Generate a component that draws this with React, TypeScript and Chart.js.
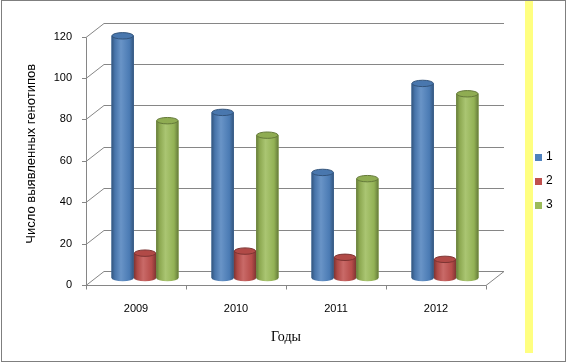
import React, { useEffect, useRef } from 'react';
import { Chart, registerables } from 'chart.js';

Chart.register(...registerables);

const categories = ['2009', '2010', '2011', '2012'];
const seriesLabels = ['1', '2', '3'];
const series1 = [117, 80, 51, 94];
const series2 = [12, 13, 10, 9];
const series3 = [76, 69, 48, 89];
const yTicks = [0, 20, 40, 60, 80, 100, 120];
const colors = ['#4F81BD', '#C0504D', '#9BBB59'];
const yTitle = 'Число выявленных генотипов';
const xTitle = 'Годы';

function shade(hex: string, amt: number): string {
  const n = parseInt(hex.slice(1), 16);
  let r = (n >> 16) & 255, g = (n >> 8) & 255, b = n & 255;
  const t = amt < 0 ? 0 : 255;
  const p = Math.abs(amt);
  r = Math.round((t - r) * p + r);
  g = Math.round((t - g) * p + g);
  b = Math.round((t - b) * p + b);
  return `rgb(${r},${g},${b})`;
}

const DX = 9;
const DY = 7;

const decorPlugin = {
  id: 'decor3d',
  beforeDraw(chart: any) {
    const { ctx, width, height, chartArea: ca } = chart;
    const ys = chart.scales.y;
    const xs = chart.scales.x;
    ctx.save();
    ctx.fillStyle = '#ffffff';
    ctx.fillRect(0, 0, width, height);
    // yellow strip
    ctx.fillStyle = '#ffff80';
    ctx.fillRect(width - 41, 0, 8, height - 9);

    const line = (x1: number, y1: number, x2: number, y2: number) => {
      ctx.beginPath();
      ctx.moveTo(x1, y1);
      ctx.lineTo(x2, y2);
      ctx.stroke();
    };
    ctx.strokeStyle = '#868686';
    ctx.lineWidth = 1;
    yTicks.forEach((v) => {
      const p = Math.round(ys.getPixelForValue(v)) + 0.5;
      line(ca.left + DX, p - DY, ca.right + DX, p - DY);
      line(ca.left - DX, p + DY, ca.left + DX, p - DY);
      line(ca.left - DX - 4, p + DY, ca.left - DX, p + DY);
    });
    const fx = Math.round(ca.left - DX) + 0.5;
    const top = Math.round(ys.getPixelForValue(yTicks[yTicks.length - 1])) + 0.5;
    const bot = Math.round(ys.getPixelForValue(0)) + 0.5;
    line(fx, top + DY, fx, bot + DY);
    line(ca.left - DX, bot + DY, ca.right - DX, bot + DY);
    line(ca.right - DX, bot + DY, ca.right + DX, bot - DY);
    for (let i = 0; i <= categories.length; i++) {
      const x = Math.round(xs.getPixelForValue(i - 0.5) - DX) + 0.5;
      line(x, bot + DY, x, bot + DY + 4);
    }
    ctx.restore();
  },
  afterDatasetsDraw(chart: any) {
    const { ctx } = chart;
    ctx.save();
    chart.data.datasets.forEach((ds: any, di: number) => {
      const meta = chart.getDatasetMeta(di);
      const c = colors[di];
      meta.data.forEach((el: any) => {
        const { x, y, base, width: w } = el.getProps(['x', 'y', 'base', 'width'], true);
        const l = x - w / 2;
        const r = x + w / 2;
        const ry = 3.2;
        const g = ctx.createLinearGradient(l, 0, r, 0);
        g.addColorStop(0, shade(c, -0.35));
        g.addColorStop(0.15, shade(c, -0.1));
        g.addColorStop(0.42, shade(c, 0.15));
        g.addColorStop(0.8, shade(c, -0.05));
        g.addColorStop(1, shade(c, -0.35));
        ctx.fillStyle = g;
        ctx.beginPath();
        ctx.moveTo(l, y);
        ctx.lineTo(l, base);
        ctx.ellipse(x, base, w / 2, ry, 0, Math.PI, 0, true);
        ctx.lineTo(r, y);
        ctx.closePath();
        ctx.fill();
        ctx.beginPath();
        ctx.ellipse(x, y, w / 2 - 0.5, ry, 0, 0, Math.PI * 2);
        ctx.fillStyle = shade(c, -0.08);
        ctx.fill();
        ctx.strokeStyle = shade(c, -0.35);
        ctx.lineWidth = 1;
        ctx.stroke();
      });
    });
    ctx.restore();
  },
  afterDraw(chart: any) {
    const { ctx, width, height, chartArea: ca } = chart;
    ctx.save();
    // x axis title
    ctx.fillStyle = '#000';
    ctx.font = '14px "Liberation Serif"';
    ctx.textAlign = 'center';
    ctx.textBaseline = 'middle';
    ctx.fillText(xTitle, (ca.left + ca.right) / 2 - DX, 337);
    // legend
    ctx.font = '12px "Liberation Sans"';
    ctx.textAlign = 'left';
    const cy = height / 2;
    chart.data.datasets.forEach((ds: any, i: number) => {
      const yy = cy + (i - 1) * 24;
      ctx.fillStyle = colors[i];
      ctx.fillRect(width - 31, Math.round(yy - 3.5), 7, 7);
      ctx.fillStyle = '#000';
      ctx.fillText(ds.label, width - 20, yy);
    });
    // frame
    ctx.strokeStyle = '#7f7f7f';
    ctx.lineWidth = 1;
    ctx.strokeRect(1.5, 0.5, width - 2, height - 1);
    ctx.restore();
  },
};

export default function App() {
  const ref = useRef<HTMLCanvasElement>(null);
  useEffect(() => {
    const chart = new Chart(ref.current as HTMLCanvasElement, {
      type: 'bar',
      data: {
        labels: categories,
        datasets: [series1, series2, series3].map((d, i) => ({
          label: seriesLabels[i],
          data: d,
          backgroundColor: colors[i],
          borderWidth: 0,
          categoryPercentage: 0.67,
          barPercentage: 1.0,
        })),
      },
      options: {
        responsive: false,
        animation: false,
        devicePixelRatio: 1,
        layout: { padding: { left: 10, top: 26, right: 71, bottom: 49 } },
        plugins: {
          legend: { display: false },
          tooltip: { enabled: false },
        },
        scales: {
          x: {
            afterFit: (scale: any) => {
              scale.height = 35;
            },
            grid: { display: false, drawTicks: false },
            border: { display: false },
            ticks: {
              padding: 24,
              labelOffset: -DX,
              color: '#000',
              font: { family: 'Liberation Sans', size: 11 },
            },
          },
          y: {
            min: 0,
            max: 120,
            afterFit: (scale: any) => {
              scale.width = 85;
            },
            afterBuildTicks: (scale: any) => {
              scale.ticks = yTicks.map((v) => ({ value: v }));
            },
            grid: { display: false, drawTicks: false },
            border: { display: false },
            ticks: {
              padding: 23,
              labelOffset: DY,
              color: '#000',
              font: { family: 'Liberation Sans', size: 11 },
            },
            title: {
              display: true,
              text: yTitle,
              color: '#000',
              font: { family: 'Liberation Sans', size: 13 },
              padding: { top: 14, bottom: 10 },
            },
          },
        },
      },
      plugins: [decorPlugin],
    });
    return () => chart.destroy();
  }, []);
  return (
    <div style={{ position: 'fixed', left: 0, top: 0, width: 566, height: 362 }}>
      <canvas ref={ref} width={566} height={362} style={{ display: 'block' }} />
    </div>
  );
}
